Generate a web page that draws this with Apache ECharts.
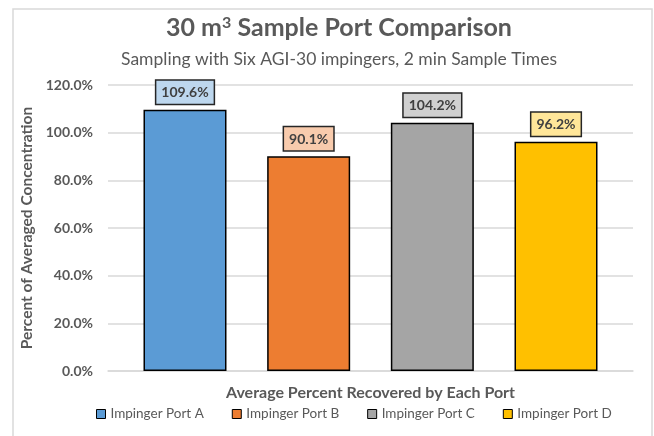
<!DOCTYPE html>
<html>
<head>
<meta charset="utf-8">
<script src="https://cdn.jsdelivr.net/npm/echarts@6/dist/echarts.min.js"></script>
<style>
    html, body { margin: 0; padding: 0; background: #fff; }
    #chart { width: 654px; height: 436px; }
</style>
</head>
<body>
<div id="chart"></div>
<script>
    // data
    var categories = [''];
    var seriesNames = ['Impinger Port A', 'Impinger Port B', 'Impinger Port C', 'Impinger Port D'];
    var seriesValues = [109.6, 90.1, 104.2, 96.2];
    var barColors = ['#5B9BD5', '#ED7D31', '#A5A5A5', '#FFC000'];
    var labelColors = ['#BDD7EE', '#F8CBAD', '#D0D0D0', '#FFE699'];
    var yTicks = [0, 20, 40, 60, 80, 100, 120];

    var font = 'Lato, "Open Sans", sans-serif';
    var textColor = '#595959';

    var series = [];
    seriesNames.forEach(function (name, i) {
        series.push({
            name: name,
            type: 'bar',
            data: [seriesValues[i]],
            barWidth: 83,
            barGap: '49%',
            itemStyle: {
                color: barColors[i],
                borderColor: '#000',
                borderWidth: 1.5
            },
            label: {
                show: true,
                position: 'top',
                distance: 6,
                formatter: function (p) { return p.value.toFixed(1) + '%'; },
                fontFamily: font,
                fontWeight: 'bold',
                fontSize: 14,
                color: '#404040',
                backgroundColor: labelColors[i],
                borderColor: '#262626',
                borderWidth: 1.5,
                padding: [5, 5, 4, 5]
            }
        });
    });

    var myChart = echarts.init(document.getElementById('chart'));
    myChart.setOption({
        animation: false,
        title: [{
            text: '30 m{sup|3} Sample Port Comparison',
            left: 339,
            textAlign: 'center',
            top: 15,
            padding: 0,
            textStyle: {
                fontFamily: font, fontWeight: 'bold', fontSize: 25, color: textColor,
                rich: {
                    sup: { fontFamily: font, fontWeight: 'bold', fontSize: 16, color: textColor, verticalAlign: 'top', lineHeight: 25 }
                }
            }
        }, {
            text: 'Sampling with Six AGI-30 impingers, 2 min Sample Times',
            left: 339,
            textAlign: 'center',
            top: 50,
            padding: 0,
            textStyle: { fontFamily: font, fontWeight: 'normal', fontSize: 17.5, color: textColor }
        }],
        legend: {
            data: seriesNames,
            bottom: 15,
            left: 96,
            padding: 0,
            icon: 'rect',
            itemWidth: 9,
            itemHeight: 9,
            itemGap: 28,
            itemStyle: { borderColor: '#000', borderWidth: 1 },
            textStyle: { fontFamily: font, fontSize: 13.5, color: textColor }
        },
        grid: { left: 108, right: 21, top: 85, bottom: 65 },
        xAxis: {
            type: 'category',
            data: categories,
            name: 'Average Percent Recovered by Each Port',
            nameLocation: 'middle',
            nameGap: 14,
            nameTextStyle: { fontFamily: font, fontWeight: 'bold', fontSize: 16, color: textColor },
            axisLine: { lineStyle: { color: '#d9d9d9', width: 1.5 } },
            axisTick: { show: false },
            axisLabel: { show: false }
        },
        yAxis: {
            type: 'value',
            min: yTicks[0],
            max: yTicks[yTicks.length - 1],
            interval: 20,
            name: 'Percent of Averaged Concentration',
            nameLocation: 'middle',
            nameGap: 68,
            nameTextStyle: { fontFamily: font, fontWeight: 'bold', fontSize: 15.5, color: textColor },
            axisLine: { show: false },
            axisTick: { show: false },
            axisLabel: {
                fontFamily: font,
                fontWeight: 'bold',
                fontSize: 14,
                color: textColor,
                margin: 15,
                formatter: function (v) { return v.toFixed(1) + '%'; }
            },
            splitLine: { lineStyle: { color: '#d9d9d9', width: 1.5 } }
        },
        graphic: [{
            type: 'rect',
            shape: { x: 13, y: 9, width: 639, height: 440 },
            style: { fill: 'none', stroke: '#d9d9d9', lineWidth: 1.5 },
            silent: true
        }],
        series: series
    });
</script>
</body>
</html>
